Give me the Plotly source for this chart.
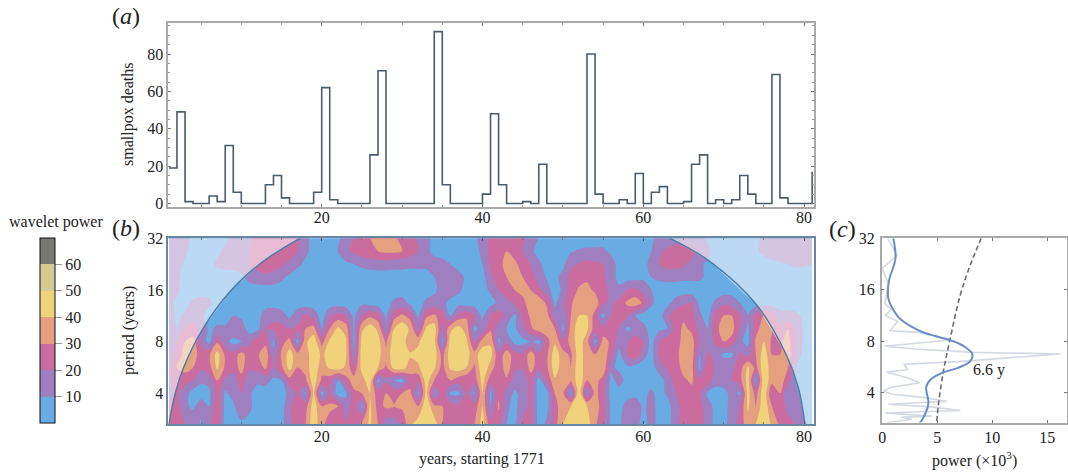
import plotly.graph_objects as go

W, H = 1068, 472

# ---------- panel a ----------
death_years = list(range(1, 82))
deaths = [19, 49, 1, 0, 0, 4, 1, 31, 6, 0,
          0, 0, 10, 15, 3, 0, 0, 0, 6, 62,
          2, 0, 0, 0, 0, 26, 71, 0, 0, 0,
          0, 0, 0, 92, 10, 0, 0, 0, 0, 5,
          48, 10, 0, 0, 1, 0, 21, 0, 0, 0,
          0, 0, 80, 5, 0, 0, 2, 0, 16, 0,
          6, 9, 0, 0, 1, 21, 26, 0, 2, 0,
          2, 15, 5, 0, 0, 69, 3, 0, 0, 0,
          17]

# ---------- panel b ----------
wave_years = list(range(1, 82))
wave_log2_period = [5.0, 4.75, 4.5, 4.25, 4.0, 3.75, 3.5, 3.25, 3.0, 2.75, 2.5, 2.25, 2.0, 1.75, 1.4]
row_500 = [18,18,14,8,5,5,5,8,14,16, 18,22,28,30,30,26,22,12,7,5, 5,8,14,20,26,30,32,32,31,28,
           24,18,12,8,5,5,5,6,8,14, 22,26,28,26,22,16,10,5,5,5, 5,5,5,5,5,5,5,5,6,7,
           9,12,14,15,15,14,12,9,6,5, 5,5,5,8,12,14,16,16,16,15, 14]
row_475 = [18,16,12,6,5,5,8,12,16,18, 20,22,25,26,25,24,20,12,7,5, 5,10,18,22,26,28,30,32,32,30,
           26,20,12,8,5,5,5,5,7,12, 24,28,30,26,20,12,7,5,5,5, 9,11,12,12,12,8,5,5,5,6,
           10,18,22,26,26,24,18,12,7,5, 5,5,5,9,12,16,18,18,17,15, 14]
row_450 = [16,15,8,5,5,6,12,13,14,16, 20,23,25,25,22,18,12,8,6,5, 5,6,8,10,12,14,15,15,14,13,
           12,12,12,13,14,10,6,5,6,10, 22,28,32,32,26,20,12,6,5,7, 18,21,23,22,20,14,7,5,5,6,
           14,20,24,24,22,16,11,9,6,5, 5,5,5,5,6,7,8,10,12,11, 10]
row_425 = [14,12,6,5,5,5,5,6,6,8, 14,17,18,16,12,8,5,5,5,5, 5,5,5,5,5,5,5,5,5,6,
           6,7,7,10,16,16,14,8,5,6, 18,26,30,32,30,24,16,9,7,14, 24,27,28,25,22,14,7,6,6,8,
           10,12,13,13,12,12,12,8,5,5, 5,5,5,5,5,5,5,5,5,5, 5]
row_400 = [14,12,5,5,5,6,7,7,6,5, 5,5,5,6,6,5,5,5,5,5, 5,5,5,5,5,5,5,5,5,5,
           5,5,6,8,14,14,12,7,5,6, 12,20,26,30,32,30,22,14,5,12, 26,31,33,28,24,16,12,20,22,16,
           10,6,5,5,5,5,5,5,5,5, 5,5,5,5,5,5,5,5,5,5, 5]
row_375 = [14,8,6,12,14,12,7,5,5,5, 5,5,5,5,5,5,5,5,5,5, 5,5,5,5,8,6,5,6,12,14,
           8,6,12,14,12,8,6,5,5,6, 6,12,16,22,28,34,37,28,8,18, 28,38,40,36,22,18,24,32,36,28,
           12,6,7,14,18,20,8,6,12,18, 16,10,6,5,5,5,5,5,5,5, 5]
row_350 = [14,8,12,16,12,6,5,5,10,8, 5,5,16,18,14,8,16,22,16,6, 18,24,20,8,20,28,24,8,26,32,
           26,8,28,32,24,8,24,28,20,8, 22,26,18,8,22,32,36,34,14,12, 30,40,40,26,7,20,26,22,10,5,
           5,5,18,26,28,24,12,6,24,30, 30,22,10,24,30,26,14,14,12,8, 5]
row_325 = [14,10,22,24,18,8,12,12,20,16, 5,7,20,22,24,20,22,30,34,10, 30,42,36,8,38,46,38,12,40,48,
           38,16,42,46,16,38,44,36,8,14, 28,14,10,8,18,28,36,36,30,8, 34,46,42,24,24,30,18,8,12,14,
           5,8,10,24,32,28,16,10,26,36, 34,20,8,26,36,30,22,30,18,8, 6]
row_300 = [14,20,30,34,18,6,28,14,6,10, 18,26,26,8,26,34,6,38,47,26, 42,48,42,7,44,48,44,28,46,48,
           30,38,48,44,7,44,48,42,18,34, 38,8,18,7,7,10,7,26,38,22, 34,46,34,7,34,28,14,18,28,20,
           6,20,26,24,34,34,20,14,22,30, 26,12,7,32,40,28,28,34,18,8, 8]
row_275 = [14,24,34,36,24,28,44,28,24,34, 24,28,38,12,32,44,34,34,48,38, 44,48,42,12,46,49,44,32,48,49,
           42,44,49,46,26,46,48,44,34,48, 44,22,36,24,20,36,22,28,46,34, 28,46,34,30,38,22,7,22,28,14,
           6,22,28,26,36,36,10,22,16,8, 8,22,16,30,46,30,30,38,14,8, 8]
row_250 = [16,30,34,30,22,26,42,28,24,34, 22,24,32,18,28,44,30,34,48,34, 42,46,38,22,44,49,40,28,44,46,
           34,38,49,42,26,42,46,40,28,48, 36,22,36,22,20,34,24,28,46,34, 30,48,32,36,38,12,8,8,6,5,
           5,16,22,24,34,34,7,30,18,16, 18,24,42,26,48,34,38,30,10,8, 10]
row_225 = [18,24,24,20,12,14,30,18,14,26, 14,12,14,8,10,26,28,28,46,28, 24,10,26,34,36,46,7,18,10,6,
           26,22,46,30,28,30,24,22,24,44, 24,28,28,16,14,24,6,22,38,34, 30,48,30,34,26,7,14,6,5,5,
           5,5,14,24,28,32,22,26,14,16, 20,26,44,8,48,34,36,24,8,6, 8]
row_200 = [18,22,14,6,5,7,26,8,14,20, 12,6,5,5,5,14,22,8,42,6, 22,6,8,28,30,40,24,30,26,30,
           32,8,44,10,28,8,8,20,8,40, 8,28,16,8,14,24,5,6,30,32, 7,48,10,34,22,6,6,6,7,7,
           12,6,12,20,26,26,22,8,6,6, 14,8,44,26,48,20,30,10,12,6, 6]
row_175 = [20,24,12,8,16,10,28,7,8,20, 12,6,5,5,6,18,28,26,46,30, 32,30,14,26,8,42,26,32,30,32,
           36,30,48,32,30,26,22,24,24,40, 10,32,12,7,16,22,6,7,26,36, 40,49,40,36,24,8,6,14,16,8,
           14,6,6,16,24,22,24,14,7,6, 14,20,42,30,48,30,30,14,18,8, 6]
row_140 = [20,26,20,18,8,18,26,6,6,7, 7,6,5,5,7,18,24,30,48,32, 26,22,22,24,32,42,30,14,14,22,
           38,46,49,46,30,24,20,24,30,44, 24,24,10,8,22,24,6,12,26,40, 46,49,46,32,22,8,7,20,14,6,
           14,6,6,16,26,26,26,14,7,7, 14,24,36,40,49,38,28,26,20,12, 6]
wave_power = [row_140, row_175, row_200, row_225, row_250, row_275, row_300, row_325,
              row_350, row_375, row_400, row_425, row_450, row_475, row_500]
wave_rows_ascending = wave_log2_period[::-1]

# cone of influence
coi_left_years = [1.0, 1.74, 2.78, 5.27, 8.6, 12.7, 17.3]
coi_left_log2 = [1.405, 1.97, 2.48, 3.26, 3.97, 4.55, 5.0]
coi_right_years = [63.3, 68.3, 74.1, 77.8, 79.3, 80.1]
coi_right_log2 = [5.0, 4.55, 3.71, 2.74, 2.1, 1.405]

level_colors = ["#69acE4", "#a07fc1", "#cb6c9f", "#e4a07f", "#efd27a", "#d3cb94", "#7a7873"]
level_values = [10, 20, 30, 40, 50, 60]

# ---------- panel c ----------
spec_power = [0.5, 1.35, 0.0, 0.55, 0.25, 0.8, 0.3, 1.4, 0.7, 3.3, 6.2, 0.2, 3.3, 8.3, 16.2, 12, 6.9,
              2.0, 2.3, 0.4, 2.2, 3.4, 0.8, 0.1, 0.8, 3.8, 5.85, 0.55, 4.5, 7.1, 0.25, 4.5, 1.75, 2.7, 0.4]
spec_log2 = [5.0, 4.67, 4.42, 4.12, 3.73, 3.62, 3.5, 3.38, 3.2, 3.17, 3.02, 2.9, 2.84, 2.78, 2.75, 2.68, 2.6,
             2.55, 2.44, 2.4, 2.29, 2.19, 2.1, 2.03, 1.97, 1.9, 1.83, 1.77, 1.72, 1.65, 1.6, 1.54, 1.52, 1.48, 1.41]
mean_power = [1.0, 1.2, 0.6, 0.55, 0.85, 1.6, 3.3, 4.8, 6.15, 7.5, 8.2, 7.97, 6.9, 5.55, 4.5, 4.0, 4.2, 4.1, 3.6, 3.4]
mean_log2 = [5.0, 4.61, 4.16, 3.83, 3.67, 3.44, 3.21, 3.1, 3.02, 2.89, 2.74, 2.6, 2.48, 2.39, 2.27, 2.11, 1.82, 1.69, 1.46, 1.41]
signif_power = [9.0, 8.0, 7.1, 6.15, 5.55, 5.1, 4.95]
signif_log2 = [5.0, 4.48, 3.9, 3.02, 2.4, 1.75, 1.41]

period_ticks = [2, 3, 4, 5]
period_labels = ["4", "8", "16", "32"]

FONT = "Liberation Serif"
INK = "#222222"
FRAME = "#a9a9a9"


def xdom(a, b):
    return [a / W, b / W]


def ydom(top, bottom):
    return [1 - bottom / H, 1 - top / H]


fig = go.Figure()

fig.add_trace(go.Scatter(x=death_years, y=deaths, mode="lines", line=dict(color="#4a5b6b", width=1.6, shape="hv"),
                         xaxis="x", yaxis="y", showlegend=False))

n = len(level_colors)
scale = []
for i, c in enumerate(level_colors):
    scale += [[i / n, c], [(i + 1) / n, c]]

fig.add_trace(go.Contour(
    x=wave_years, y=wave_rows_ascending, z=wave_power,
    xaxis="x2", yaxis="y2", zmin=0, zmax=70, colorscale=scale,
    contours=dict(start=0, end=70, size=10, coloring="fill", showlines=False),
    line=dict(width=0, smoothing=0.9),
    colorbar=dict(
        x=40 / W, xanchor="left", xpad=0, ypad=0, y=1 - 330.5 / H, yanchor="middle",
        len=185, lenmode="pixels", thickness=15, thicknessmode="pixels",
        outlinecolor="#111111", outlinewidth=1, tickmode="array", tickvals=level_values,
        ticks="outside", ticklen=7, tickcolor="#999999", tickwidth=1,
        tickfont=dict(family=FONT, size=16, color=INK),
    ),
))

fig.add_trace(go.Scatter(
    x=[coi_left_years[0]] + coi_left_years + [0.9, 0.9, coi_left_years[0]],
    y=[coi_left_log2[0]] + coi_left_log2 + [5.0, 1.405, 1.405],
    mode="none", fill="toself", fillcolor="rgba(255,255,255,0.55)", xaxis="x2", yaxis="y2", showlegend=False))
fig.add_trace(go.Scatter(
    x=coi_right_years + [81.3, 81.3, coi_right_years[0]],
    y=coi_right_log2 + [1.405, 5.0, 5.0],
    mode="none", fill="toself", fillcolor="rgba(255,255,255,0.55)", xaxis="x2", yaxis="y2", showlegend=False))
for xs, ys in ((coi_left_years, coi_left_log2), (coi_right_years, coi_right_log2)):
    fig.add_trace(go.Scatter(x=xs, y=ys, mode="lines", line=dict(color="#4d7ea8", width=1.5, shape="spline"),
                             xaxis="x2", yaxis="y2", showlegend=False))

fig.add_trace(go.Scatter(x=spec_power, y=spec_log2, mode="lines", line=dict(color="#d3d8e3", width=1.6),
                         xaxis="x3", yaxis="y3", showlegend=False))
fig.add_trace(go.Scatter(x=signif_power, y=signif_log2, mode="lines",
                         line=dict(color="#6b6b6b", width=1.6, dash="5px,3px", shape="spline"),
                         xaxis="x3", yaxis="y3", showlegend=False))
fig.add_trace(go.Scatter(x=mean_power, y=mean_log2, mode="lines", line=dict(color="#6d8cc4", width=2.0, shape="spline"),
                         xaxis="x3", yaxis="y3", showlegend=False))

tick_font = dict(family=FONT, size=16, color=INK)
frame = dict(showline=True, linecolor=FRAME, linewidth=1.5, mirror="allticks", showgrid=False, zeroline=False, tickfont=tick_font)
minor_a = dict(tick0=0, dtick=5, ticks="inside", ticklen=2, tickcolor="#999999")

fig.update_layout(
    width=W, height=H, margin=dict(l=0, r=0, t=0, b=0, pad=0, autoexpand=False), paper_bgcolor="white", plot_bgcolor="white",
    font=dict(family=FONT, size=16, color=INK), showlegend=False, hovermode=False,
    xaxis=dict(domain=xdom(168.3, 813.5), range=[0.92, 81.17], anchor="y", tickmode="array", tickvals=[20, 40, 60, 80],
               ticks="inside", ticklen=3, tickcolor="#777777", minor=minor_a, ticklabelstandoff=-5, **frame),
    yaxis=dict(domain=ydom(23, 207), range=[-1.9, 96.6], anchor="x", tickmode="array", tickvals=[0, 20, 40, 60, 80],
               ticks="inside", ticklen=3, tickcolor="#777777", minor=minor_a, **frame),
    xaxis2=dict(domain=xdom(168.3, 813.5), range=[0.92, 81.17], anchor="y2", tickmode="array", tickvals=[20, 40, 60, 80],
                ticks="inside", ticklen=3, tickcolor="#555555", ticklabelstandoff=-3,
                minor=dict(tick0=0, dtick=5, ticks="inside", ticklen=2, tickcolor="#777777"),
                **{**frame, "linecolor": "#6a86a3"}),
    yaxis2=dict(domain=ydom(238.3, 424), range=[1.405, 5.0], anchor="x2", tickmode="array", tickvals=period_ticks,
                ticktext=period_labels, **{**frame, "linecolor": "#6a86a3"}),
    xaxis3=dict(domain=xdom(881.7, 1067), range=[-0.05, 16.8], anchor="y3", tickmode="array", tickvals=[0, 5, 10, 15],
                ticks="inside", ticklen=3, tickcolor="#777777", **frame),
    yaxis3=dict(domain=ydom(238.3, 422.5), range=[1.416, 5.0], anchor="x3", tickmode="array", tickvals=period_ticks,
                ticktext=period_labels, ticks="inside", ticklen=3, tickcolor="#777777", ticklabelstandoff=2, **frame),
)


def txt(text, x, y, size=16, angle=0, anchor="center"):
    fig.add_annotation(text=text, x=x / W, y=1 - y / H, xref="paper", yref="paper", showarrow=False,
                       textangle=angle, xanchor=anchor, yanchor="middle",
                       font=dict(family=FONT, size=size, color=INK))


txt("(<i>a</i>)", 126, 16, size=24)
txt("(<i>b</i>)", 126, 228, size=24)
txt("(<i>c</i>)", 842, 229, size=24)
txt("wavelet power", 55.5, 222)
txt("smallpox deaths", 128, 114, angle=-90)
txt("period (years)", 129, 331, angle=-90)
txt("years, starting 1771", 482, 459)
txt("power (×10<sup>3</sup>)", 974, 459)
fig.add_annotation(text="6.6 y", x=8.1, y=2.44, xref="x3", yref="y3", xanchor="left", yanchor="middle", showarrow=False,
                   font=dict(family=FONT, size=16, color=INK))

fig.write_html("out.html", config={"displayModeBar": False},
               post_script="document.body.style.margin='0';document.body.style.overflow='hidden';")
